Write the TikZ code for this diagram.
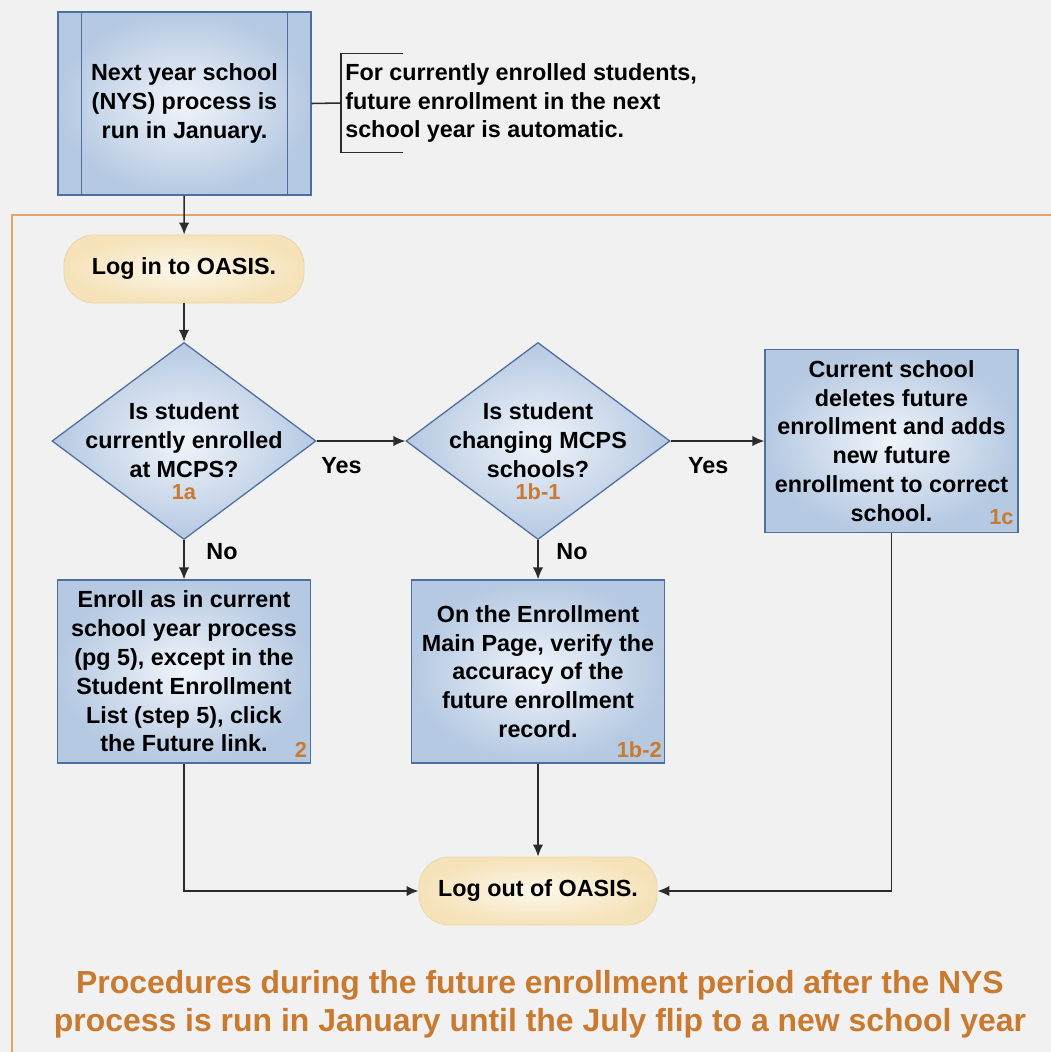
\documentclass[tikz,border=0pt]{standalone}
\usepackage{fontspec}
\setmainfont{Liberation Sans}
\usetikzlibrary{positioning,shapes.geometric,arrows.meta}

\definecolor{bggray}{HTML}{F1F1F1}
\definecolor{frameorange}{HTML}{E2A56A}
\definecolor{steporange}{HTML}{C97A2E}
\definecolor{boxedge}{HTML}{4E6E9E}
\definecolor{boxout}{HTML}{B5C9E2}
\definecolor{boxin}{HTML}{F0F4FA}
\definecolor{termout}{HTML}{F5E2B8}
\definecolor{termin}{HTML}{FDF8EC}
\definecolor{termedge}{HTML}{EBD7A8}
\definecolor{linegray}{HTML}{2B2B2B}

\newcommand{\boxfont}{\bfseries\fontsize{16.6}{20.5}\selectfont}
\newcommand{\stepfont}{\bfseries\fontsize{15.5}{18}\selectfont}
\newcommand{\titlefont}{\bfseries\fontsize{22.7}{27}\selectfont}

\begin{document}
\begin{tikzpicture}[x=0.025cm, y=-0.025cm,
		proc/.style={rectangle, draw=boxedge, line width=0.9pt, outer color=boxout, inner color=boxin,
			minimum width=6.325cm, minimum height=4.575cm, inner sep=0pt, align=center, font=\boxfont},
		decision/.style={diamond, draw=boxedge, line width=0.9pt, outer color=boxout, inner color=boxin,
			minimum width=6.6cm, minimum height=4.925cm, inner sep=0pt},
		terminal/.style={rectangle, rounded corners=0.75cm, draw=termedge, line width=0.6pt, outer color=termout,
			inner color=termin, minimum height=1.7cm, inner sep=0pt, font=\boxfont},
		txt/.style={align=center, font=\boxfont, inner sep=0pt},
		steplbl/.style={font=\stepfont, text=steporange, inner sep=0pt},
		flow/.style={draw=linegray, line width=1.1pt, -{Latex[length=3mm,width=2.6mm]}},
		conn/.style={draw=linegray, line width=1.1pt}]
	%Background
	\clip (0,0) rectangle (1051,1052);
	\fill[bggray] (0,0) rectangle (1051,1052);
	\draw[frameorange, line width=1.6pt] (12,215) rectangle (1090,1090);

	%Nodes
	\node[proc] (nys) at (184.5,103.5) {Next year school\\(NYS) process is\\run in January.};
	\draw[boxedge, line width=0.9pt] ([xshift=0.6cm]nys.north west) -- ([xshift=0.6cm]nys.south west);
	\draw[boxedge, line width=0.9pt] ([xshift=-0.6cm]nys.north east) -- ([xshift=-0.6cm]nys.south east);
	\node[txt, align=left, anchor=west, minimum height=2.45cm, inner xsep=0.1cm] (note) at (341,103)
		{For currently enrolled students,\\future enrollment in the next\\school year is automatic.};

	\node[terminal, minimum width=6cm] (login) at (184,269) {Log in to OASIS.};

	\node[decision] (d1a) at (184,441) {};
	\node[txt] (t1a) at (184,440) {Is student\\currently enrolled\\at MCPS?};
	\node[steplbl] (s1a) at (184,492) {1a};

	\node[decision] (d1b) at (538,441) {};
	\node[txt] (t1b) at (538,440) {Is student\\changing MCPS\\schools?};
	\node[steplbl] (s1b) at (538,492) {1b-1};

	\node[proc] (p1c) at (891.5,441) {Current school\\deletes future\\enrollment and adds\\new future\\enrollment to correct\\school.};
	\node[steplbl, anchor=south east] (s1c) at ([xshift=-0.12cm, yshift=0.2cm]p1c.south east) {1c};

	\node[proc] (p2) at (184,671.5) {Enroll as in current\\school year process\\(pg 5), except in the\\Student Enrollment\\List (step 5), click\\the Future link.};
	\node[steplbl, anchor=south east] (s2) at ([xshift=-0.1cm, yshift=0.15cm]p2.south east) {2};

	\node[proc] (p1b) at (538,671.5) {On the Enrollment\\Main Page, verify the\\accuracy of the\\future enrollment\\record.};
	\node[steplbl, anchor=south east] (s1b2) at ([xshift=-0.08cm, yshift=0.15cm]p1b.south east) {1b-2};

	\node[terminal, minimum width=5.95cm] (logout) at (538,891) {Log out of OASIS.};

	\node[align=center, font=\titlefont, text=steporange, inner sep=0pt] (title) at (540,1004)
		{Procedures during the future enrollment period after the NYS\\process is run in January until the July flip to a new school year};

	%Lines
	\draw[conn] (nys.east) -- (note.west);
	\draw[conn] ([xshift=1.55cm]note.north west) -| (note.south west) -- ++(62,0);
	\draw[flow] (nys) -- (login);
	\draw[flow] (login) -- (d1a);
	\draw[flow] (d1a) -- node[txt, pos=0.28, yshift=-0.625cm] {Yes} (d1b);
	\draw[flow] (d1b) -- node[txt, pos=0.4, yshift=-0.625cm] {Yes} (p1c);
	\draw[flow] (d1a) -- node[txt, pos=0.3, xshift=0.95cm] {No} (p2);
	\draw[flow] (d1b) -- node[txt, pos=0.3, xshift=0.85cm] {No} (p1b);
	\draw[flow] (p1b) -- (logout);
	\draw[flow] (p2.south) |- (logout.west);
	\draw[flow] (p1c.south) |- (logout.east);
\end{tikzpicture}
\end{document}
